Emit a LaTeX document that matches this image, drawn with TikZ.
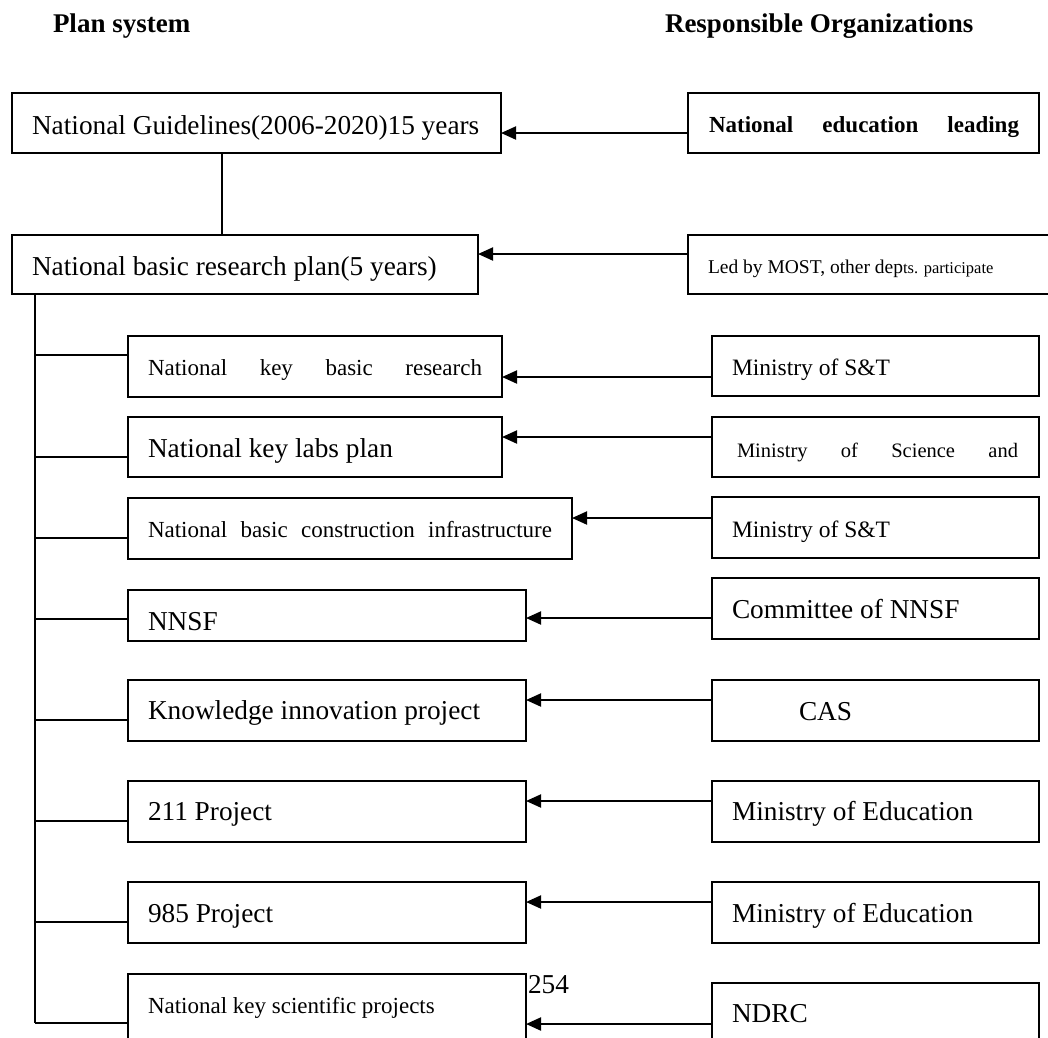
\documentclass[tikz,border=0pt]{standalone}
\usepackage{fontspec}
\setmainfont{Liberation Serif}
\usetikzlibrary{arrows.meta}
\newcommand{\fs}[1]{\fontsize{#1}{#1}\selectfont}
\newcommand{\bx}[5]{\node[box, minimum width={(#4-#2)*1pt}, minimum height={(#5-#3)*1pt}] (#1) at (#2,#3) {};}
\tikzset{
  box/.style={draw, line width=1.8pt, rectangle, inner sep=0pt, outer sep=0pt, anchor=north west},
  txt/.style={anchor=base west, inner sep=0pt, outer sep=0pt},
  arr/.style={line width=2pt, -{Triangle[length=15pt,width=13pt]}},
  conn/.style={line width=2pt},
  thin/.style={line width=1.4pt}
}
\begin{document}
\begin{tikzpicture}[x=1pt,y=-1pt]
\useasboundingbox (0,0) rectangle (1048,1037);
\clip (0,0) rectangle (1048,1037);
% headers
\node[txt, font=\fs{27}\bfseries] (h1) at (53,32) {Plan system};
\node[txt, font=\fs{27}\bfseries] (h2) at (665,32) {Responsible Organizations};
% boxes
\bx{g}{12}{93}{501}{153}
\bx{r1}{688}{93}{1039}{153}
\bx{b}{12}{235}{478}{294}
\bx{r2}{688}{235}{1070}{294}
\bx{s1}{128}{336}{502}{397}
\bx{q1}{712}{336}{1039}{396}
\bx{s2}{128}{417}{502}{477}
\bx{q2}{712}{417}{1039}{477}
\bx{s3}{128}{498}{572}{559}
\bx{q3}{712}{497}{1039}{558}
\bx{s4}{128}{590}{526}{641}
\bx{q4}{712}{578}{1039}{639}
\bx{s5}{128}{680}{526}{741}
\bx{q5}{712}{680}{1039}{741}
\bx{s6}{128}{781}{526}{842}
\bx{q6}{712}{781}{1039}{842}
\bx{s7}{128}{882}{526}{943}
\bx{q7}{712}{882}{1039}{943}
\bx{s8}{128}{974}{526}{1060}
\bx{q8}{712}{983}{1039}{1060}
% texts
\node[txt, font=\fs{27.3}] (gt) at (32,134) {National Guidelines(2006-2020)15 years};
\node[txt, font=\fs{23}\bfseries] (r1t) at (709,132) {\hbox to 310pt{National\hfill education\hfill leading}};
\node[txt, font=\fs{27.3}] (bt) at (32,275) {National basic research plan(5 years)};
\node[txt, font=\fs{19.5}] (r2t) at (708,273) {Led by MOST, other dep{\fs{16.5}ts. participate}};
\node[txt, font=\fs{23}] (s1t) at (148,375) {\hbox to 334pt{National\hfill key\hfill basic\hfill research}};
\node[txt, font=\fs{23.5}] (q1t) at (732,375) {Ministry of S\&T};
\node[txt, font=\fs{27.3}] (s2t) at (148,457) {National key labs plan};
\node[txt, font=\fs{20.5}] (q2t) at (737,457) {\hbox to 281pt{Ministry\hfill of\hfill Science\hfill and}};
\node[txt, font=\fs{23}] (s3t) at (148,537) {\hbox to 404pt{National\hfill basic\hfill construction\hfill infrastructure}};
\node[txt, font=\fs{23.5}] (q3t) at (732,537) {Ministry of S\&T};
\node[txt, font=\fs{27.3}] (s4t) at (148,630) {NNSF};
\node[txt, font=\fs{27.3}] (q4t) at (732,618) {Committee of NNSF};
\node[txt, font=\fs{27.3}] (s5t) at (148,719) {Knowledge innovation project};
\node[txt, font=\fs{27.3}] (q5t) at (799,720) {CAS};
\node[txt, font=\fs{27.3}] (s6t) at (148,820) {211 Project};
\node[txt, font=\fs{27.3}] (q6t) at (732,820) {Ministry of Education};
\node[txt, font=\fs{27.3}] (s7t) at (148,922) {985 Project};
\node[txt, font=\fs{27.3}] (q7t) at (732,922) {Ministry of Education};
\node[txt, font=\fs{23}] (s8t) at (148,1013) {National key scientific projects};
\node[txt, font=\fs{27.3}] (q8t) at (732,1022) {NDRC};
\node[txt, font=\fs{27.3}] (pg) at (528,993) {254};
% G to B connector
\coordinate (gb) at (222,153);
\draw[thin] (gb) -- (gb |- b.north);
% arrows
\coordinate (a0) at (0,133);
\coordinate (ab) at (0,254);
\coordinate (a1) at (0,377);
\coordinate (a2) at (0,437);
\coordinate (a3) at (0,518);
\coordinate (a4) at (0,618);
\coordinate (a5) at (0,700);
\coordinate (a6) at (0,801);
\coordinate (a7) at (0,902);
\coordinate (a8) at (0,1024);
\draw[arr] (r1.west |- a0) -- (g.east |- a0);
\draw[arr] (r2.west |- ab) -- (b.east |- ab);
\draw[arr] (q1.west |- a1) -- (s1.east |- a1);
\draw[arr] (q2.west |- a2) -- (s2.east |- a2);
\draw[arr] (q3.west |- a3) -- (s3.east |- a3);
\draw[arr] (q4.west |- a4) -- (s4.east |- a4);
\draw[arr] (q5.west |- a5) -- (s5.east |- a5);
\draw[arr] (q6.west |- a6) -- (s6.east |- a6);
\draw[arr] (q7.west |- a7) -- (s7.east |- a7);
\draw[arr] (q8.west |- a8) -- (s8.east |- a8);
% trunk and junctions
\coordinate (j1) at (35,355);
\coordinate (j2) at (35,457);
\coordinate (j3) at (35,538);
\coordinate (j4) at (35,619);
\coordinate (j5) at (35,720);
\coordinate (j6) at (35,821);
\coordinate (j7) at (35,922);
\coordinate (j8) at (35,1023);
\draw[conn] (j8 |- b.south) -- (j8);
\draw[conn] (j1) -- (j1 -| s1.west);
\draw[conn] (j2) -- (j2 -| s2.west);
\draw[conn] (j3) -- (j3 -| s3.west);
\draw[conn] (j4) -- (j4 -| s4.west);
\draw[conn] (j5) -- (j5 -| s5.west);
\draw[conn] (j6) -- (j6 -| s6.west);
\draw[conn] (j7) -- (j7 -| s7.west);
\draw[conn] (j8) -- (j8 -| s8.west);
\end{tikzpicture}
\end{document}
